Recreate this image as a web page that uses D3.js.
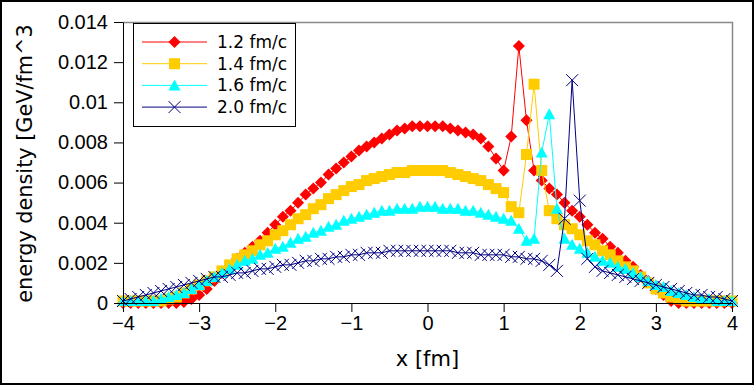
<!DOCTYPE html>
<html>
<head>
<meta charset="utf-8">
<title>energy density</title>
<style>
  body { margin: 0; background: #fff; }
  svg { display: block; font-family: "DejaVu Sans", sans-serif; }
  .achse path, .achse line { stroke: #000; stroke-width: 1; }
  .achse text { font-size: 20px; fill: #000; }
</style>
</head>
<body>
<svg id="chart" width="754" height="385"></svg>
<script src="https://d3js.org/d3.v7.min.js"></script>
<script>
// x grid [fm]
var xs = [-4.0, -3.9, -3.8, -3.7, -3.6, -3.5, -3.4, -3.3, -3.2, -3.1,
          -3.0, -2.9, -2.8, -2.7, -2.6, -2.5, -2.4, -2.3, -2.2, -2.1,
          -2.0, -1.9, -1.8, -1.7, -1.6, -1.5, -1.4, -1.3, -1.2, -1.1,
          -1.0, -0.9, -0.8, -0.7, -0.6, -0.5, -0.4, -0.3, -0.2, -0.1,
           0.0,  0.1,  0.2,  0.3,  0.4,  0.5,  0.6,  0.7,  0.8,  0.9,
           1.0,  1.1,  1.2,  1.3,  1.4,  1.5,  1.6,  1.7,  1.8,  1.9,
           2.0,  2.1,  2.2,  2.3,  2.4,  2.5,  2.6,  2.7,  2.8,  2.9,
           3.0,  3.1,  3.2,  3.3,  3.4,  3.5,  3.6,  3.7,  3.8,  3.9,
           4.0];

// energy density [GeV/fm^3]
var t12 = [0, 0, 0, 0, 0, 0, 0, 0, 0.00005, 0.0002,
           0.0004, 0.0007, 0.0011, 0.0015, 0.0018, 0.0022, 0.0025, 0.0028, 0.0031, 0.0035,
           0.0039, 0.0043, 0.0046, 0.0050, 0.0054, 0.0057, 0.0060, 0.0064, 0.0067, 0.0070,
           0.0073, 0.0076, 0.0078, 0.0080, 0.0082, 0.0084, 0.0086, 0.0087, 0.0088, 0.0088,
           0.0088, 0.0088, 0.0088, 0.0087, 0.0086, 0.0085, 0.0084, 0.0082, 0.0078, 0.0072,
           0.0066, 0.0083, 0.0128, 0.0091, 0.0066, 0.0061, 0.0057, 0.0054, 0.0050, 0.0046,
           0.0043, 0.0039, 0.0035, 0.0032, 0.0028, 0.0025, 0.0021, 0.0018, 0.0014, 0.0011,
           0.0007, 0.0004, 0.0001, 0, 0, 0, 0, 0, 0, 0,
           0];

var t14 = [0.0001, 0.0001, 0.0001, 0.0001, 0.0001, 0.0001, 0.0002, 0.0003, 0.0005, 0.0007,
           0.0009, 0.0011, 0.0013, 0.0016, 0.0019, 0.0022, 0.0024, 0.0026, 0.0029, 0.0031,
           0.0034, 0.0036, 0.0039, 0.0042, 0.0044, 0.0047, 0.0049, 0.0052, 0.0054, 0.0056,
           0.0058, 0.0059, 0.0061, 0.0062, 0.0063, 0.0064, 0.0065, 0.0065, 0.0066, 0.0066,
           0.0066, 0.0066, 0.0066, 0.0065, 0.0064, 0.0063, 0.0062, 0.0061, 0.0059, 0.0057,
           0.0055, 0.0048, 0.0045, 0.0074, 0.0109, 0.0066, 0.0046, 0.0042, 0.0039, 0.0037,
           0.0034, 0.0031, 0.0029, 0.0026, 0.0024, 0.0021, 0.0018, 0.0016, 0.0013, 0.0010,
           0.0007, 0.0005, 0.0003, 0.0002, 0.0001, 0.0001, 0.0001, 0.0001, 0.0001, 0.0001,
           0.0001];

var t16 = [0.0001, 0.0001, 0.0001, 0.0001, 0.0001, 0.0002, 0.0003, 0.0004, 0.0005, 0.0007,
           0.0009, 0.0011, 0.0013, 0.0015, 0.0017, 0.0019, 0.0021, 0.0022, 0.0024, 0.0025,
           0.0027, 0.0028, 0.0030, 0.0032, 0.0033, 0.0035, 0.0036, 0.0038, 0.0039, 0.0041,
           0.0042, 0.0043, 0.0044, 0.0045, 0.0046, 0.0046, 0.0047, 0.0047, 0.0047, 0.0048,
           0.0048, 0.0048, 0.0047, 0.0047, 0.0047, 0.0046, 0.0046, 0.0045, 0.0044, 0.0043,
           0.0042, 0.0041, 0.0037, 0.0031, 0.0032, 0.0075, 0.0094, 0.0047, 0.0032, 0.0029,
           0.0027, 0.0025, 0.0023, 0.0021, 0.0020, 0.0018, 0.0017, 0.0015, 0.0013, 0.0011,
           0.0009, 0.0008, 0.0006, 0.0005, 0.0004, 0.0003, 0.0002, 0.0002, 0.0001, 0.0001,
           0.0001];

var t20 = [0.0001, 0.0002, 0.0003, 0.0004, 0.0005, 0.0006, 0.0007, 0.0008, 0.0009, 0.0010,
           0.0011, 0.0012, 0.0013, 0.0013, 0.0014, 0.0015, 0.0015, 0.0016, 0.0017, 0.0017,
           0.0018, 0.0019, 0.0019, 0.0020, 0.0021, 0.0021, 0.0022, 0.0022, 0.0023, 0.0023,
           0.0024, 0.0024, 0.0025, 0.0025, 0.0025, 0.0026, 0.0026, 0.0026, 0.0026, 0.0026,
           0.0026, 0.0026, 0.0026, 0.0026, 0.0025, 0.0025, 0.0025, 0.0024, 0.0024, 0.0024,
           0.0024, 0.0023, 0.0023, 0.0022, 0.0022, 0.0021, 0.0019, 0.0016, 0.0042, 0.0111,
           0.0051, 0.0022, 0.0018, 0.0016, 0.0015, 0.0014, 0.0013, 0.0012, 0.0011, 0.0010,
           0.0009, 0.0008, 0.0007, 0.0006, 0.0005, 0.0004, 0.0004, 0.0003, 0.0003, 0.0002,
           0.0001];

var namen = ["1.2 fm/c", "1.4 fm/c", "1.6 fm/c", "2.0 fm/c"];
var werte = [t12, t14, t16, t20];
var farben = ["#ff0000", "#ffcc00", "#00ffff", "#000080"];
var symbole = ["raute", "quadrat", "dreieck", "kreuz"];

var xTicks = [-4, -3, -2, -1, 0, 1, 2, 3, 4];
var xTickLabels = ["\u22124", "\u22123", "\u22122", "\u22121", "0", "1", "2", "3", "4"];
var yTicks = [0, 0.002, 0.004, 0.006, 0.008, 0.01, 0.012, 0.014];
var yTickLabels = ["0", "0.002", "0.004", "0.006", "0.008", "0.01", "0.012", "0.014"];

var links = 123, rechts = 732, oben = 22, unten = 303;

var svg = d3.select('#chart');

var x = d3.scaleLinear().domain([-4, 4]).range([links, rechts]);
var y = d3.scaleLinear().domain([0, 0.014]).range([unten, oben]);

function form(s) {
    if (s == "raute") return "M0,-6L6,0L0,6L-6,0Z";
    if (s == "quadrat") return "M-5.5,-5.5h11v11h-11Z";
    if (s == "dreieck") return "M0,-6L6,5L-6,5Z";
    return "M-6,-6L6,6M6,-6L-6,6";
}

function set_marker(sel, s, farbe) {
    sel
    .attr('d', form(s))
    .attr('fill', s == "kreuz" ? "none" : farbe)
    .attr('stroke', s == "kreuz" ? farbe : "none")
    .attr('stroke-width', 1);
}

// outer border
svg.append('rect')
    .attr('x', 1).attr('y', 1)
    .attr('width', 752).attr('height', 383)
    .attr('fill', 'none')
    .attr('stroke', '#000')
    .attr('stroke-width', 2);

// grey frame top + right
svg.append('path')
    .attr('d', 'M' + links + ',' + (oben + 0.5) + 'H' + (rechts + 0.5) + 'V' + unten)
    .attr('fill', 'none')
    .attr('stroke', '#888')
    .attr('stroke-width', 1.5);

// series
var zeile = d3.line()
    .x(function(d) { return x(d[0]); })
    .y(function(d) { return y(d[1]); });

werte.forEach(function(reihe, k) {
    var daten = xs.map(function(xv, i) { return [xv, reihe[i]]; });
    var g = svg.append('g');

    g.append('path')
        .datum(daten)
        .attr('d', zeile)
        .attr('fill', 'none')
        .attr('stroke', farben[k])
        .attr('stroke-width', 1);

    g.selectAll('.punkt')
        .data(daten)
        .enter()
        .append('path')
        .classed('punkt', true)
        .attr('transform', function(d) { return 'translate(' + x(d[0]) + ',' + y(d[1]) + ')'; })
        .call(set_marker, symbole[k], farben[k]);
});

// axes
svg.append('g')
    .classed('achse', true)
    .attr('transform', 'translate(0,' + unten + ')')
    .call(d3.axisBottom(x)
        .tickValues(xTicks)
        .tickFormat(function(d, i) { return xTickLabels[i]; })
        .tickSize(9).tickSizeOuter(0).tickPadding(4));

svg.append('g')
    .classed('achse', true)
    .attr('transform', 'translate(' + links + ',0)')
    .call(d3.axisLeft(y)
        .tickValues(yTicks)
        .tickFormat(function(d, i) { return yTickLabels[i]; })
        .tickSize(9).tickSizeOuter(0).tickPadding(6));

svg.selectAll('.achse .domain').attr('stroke', '#000');

// axis titles
svg.append('text')
    .attr('x', (links + rechts) / 2)
    .attr('y', 366)
    .attr('text-anchor', 'middle')
    .attr('font-size', 21)
    .text('x [fm]');

svg.append('text')
    .attr('transform', 'translate(32,' + (oben + unten + 2) / 2 + ') rotate(-90)')
    .attr('text-anchor', 'middle')
    .attr('font-size', 20.8)
    .text('energy density [GeV/fm^3');

// legend
var leg = svg.append('g');
leg.append('rect')
    .attr('x', 133.5).attr('y', 23.5)
    .attr('width', 162).attr('height', 103)
    .attr('fill', '#fff')
    .attr('stroke', '#000')
    .attr('stroke-width', 1);

namen.forEach(function(n, k) {
    var ly = 42 + k * 21.7;
    leg.append('line')
        .attr('x1', 142).attr('x2', 207)
        .attr('y1', ly).attr('y2', ly)
        .attr('stroke', farben[k])
        .attr('stroke-width', 1);
    leg.append('path')
        .attr('transform', 'translate(174.5,' + ly + ')')
        .call(set_marker, symbole[k], farben[k]);
    leg.append('text')
        .attr('x', 217)
        .attr('y', ly)
        .attr('dy', '0.35em')
        .attr('font-size', 17)
        .text(n);
});
</script>
</body>
</html>
